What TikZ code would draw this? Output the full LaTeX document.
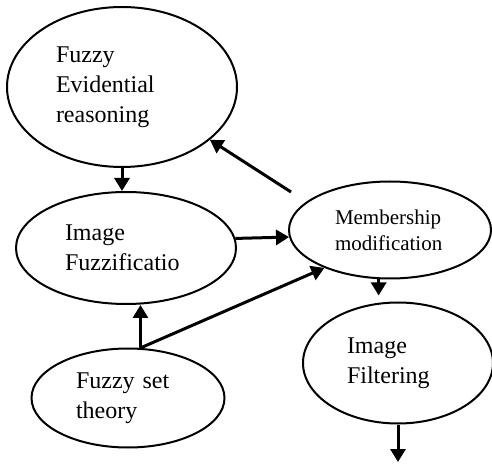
\documentclass[tikz,border=0pt]{standalone}
\usepackage{fontspec}
\setmainfont{Liberation Serif}
\usetikzlibrary{shapes.geometric,arrows.meta,calc}

\begin{document}
\begin{tikzpicture}[x=0.5pt,y=-0.5pt,
    every node/.style={inner sep=0pt},
    blob/.style={draw,ellipse,line width=1pt,align=left,
        font=\fontsize{12}{15}\selectfont},
    flow/.style={line width=1.5pt,-{Triangle[length=6.5pt,width=7.5pt]}}]

    \useasboundingbox (0,0) rectangle (492,464);

    % the five blocks
    \node[blob,minimum width=115pt,minimum height=80pt,text width=66pt]
        (fer) at (122,87) {Fuzzy\\Evidential\\reasoning};
    \node[blob,minimum width=110pt,minimum height=56pt,text width=61pt]
        (fuz) at (126,248) {Image\\Fuzzificatio};
    \node[blob,minimum width=101pt,minimum height=48.5pt,text width=55pt,
        font=\fontsize{10.5}{13}\selectfont]
        (mem) at (390,230) {Membership\\modification};
    \node[blob,minimum width=96.5pt,minimum height=49.5pt,text width=52pt]
        (fst) at (128,398) {Fuzzy set\\theory};
    \node[blob,minimum width=95pt,minimum height=60.5pt,text width=51pt]
        (filt) at (398,363) {Image\\Filtering};

    % loose ends
    \coordinate (mtail) at (291,192);
    \coordinate (out) at (398,462);

    % arrows
    \draw[flow] (fer.south) -- (fer.south |- fuz.north);
    \draw[flow] (fuz.5) -- (mem.184);
    \draw[flow] (mtail) -- (fer.-31);
    \draw[flow] (fst.76) -- (fst.76 |- fuz.south);
    \draw[flow] (fst.76) -- (mem.210);
    \draw[flow,shorten >=3pt] (mem.257) -- (mem.257 |- filt.north);
    \draw[flow] (filt.south) -- (out);
\end{tikzpicture}
\end{document}
